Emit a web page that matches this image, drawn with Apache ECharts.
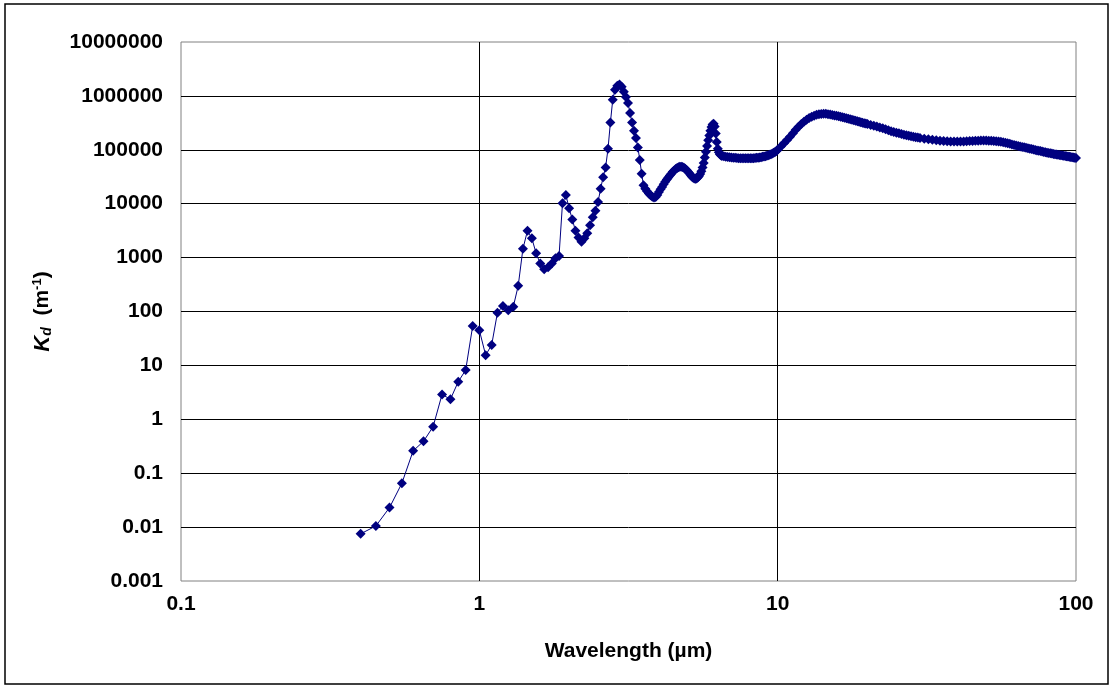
<!DOCTYPE html>
<html>
<head>
<meta charset="utf-8">
<script src="https://cdn.jsdelivr.net/npm/echarts@6/dist/echarts.min.js"></script>
<style>
html,body{margin:0;padding:0;background:#fff;}
#c{width:1115px;height:686px;}
</style>
</head>
<body>
<div id="c"></div>
<script>
// Wavelength (µm)
const wavelength = [
0.40,0.45,0.50,0.55,0.60,0.65,0.70,0.75,0.80,0.85,0.90,0.95,
1.00,1.05,1.10,1.15,1.20,1.25,1.30,1.35,1.40,1.45,1.50,1.55,1.60,1.65,1.70,1.75,1.80,1.85,1.90,1.95,
2.00,2.05,2.10,2.15,2.20,2.25,2.30,2.35,2.40,2.45,2.50,2.55,2.60,2.65,2.70,2.75,2.80,2.85,2.90,2.95,
3.00,3.05,3.10,3.15,3.20,3.25,3.30,3.35,3.40,3.45,3.50,3.55,3.60,3.65,3.70,3.75,3.80,3.85,3.90,3.95,
4.00,4.05,4.10,4.15,4.20,4.25,4.30,4.35,4.40,4.45,4.50,4.55,4.60,4.65,4.70,4.75,4.80,4.85,4.90,4.95,
5.00,5.05,5.10,5.15,5.20,5.25,5.30,5.35,5.40,5.45,5.50,5.55,5.60,5.65,5.70,5.75,5.80,5.85,5.90,5.95,
6.00,6.05,6.10,6.15,6.20,6.25,6.30,6.35,6.40,6.45,6.50,
6.6,6.7,6.8,6.9,7.0,7.1,7.2,7.3,7.4,7.5,7.6,7.7,7.8,7.9,8.0,8.1,8.2,8.3,8.4,8.5,8.6,8.7,8.8,8.9,
9.0,9.1,9.2,9.3,9.4,9.5,9.6,9.7,9.8,9.9,
10.00,10.25,10.50,10.75,11.00,11.25,11.50,11.75,12.00,12.25,12.50,12.75,13.00,13.25,13.50,13.75,
14.00,14.25,14.50,14.75,15.00,15.25,15.50,15.75,16.00,16.25,16.50,16.75,17.00,17.25,17.50,17.75,
18.00,18.25,18.50,18.75,19.00,19.25,19.50,19.75,
20,20.5,21,21.5,22,22.5,23,23.5,24,24.5,25,25.5,26,26.5,27,27.5,28,28.5,29,29.5,
30,31,32,33,34,35,36,37,38,39,40,41,42,43,44,45,46,47,48,49,
50,51,52,53,54,55,56,57,58,59,60,61,62,63,64,65,66,67,68,69,70,71,72,73,74,75,76,77,78,79,
80,81,82,83,84,85,86,87,88,89,90,91,92,93,94,95,96,97,98,99,100
];
// Kd (m^-1)
const kd = [
0.0075,0.0105,0.023,0.065,0.26,0.39,0.73,2.9,2.35,5.0,8.2,54,
45,15.5,24,95,127,105,123,300,1460,3150,2280,1200,780,610,660,780,970,1070,10200,14500,
8200,5100,3150,2350,1970,2280,2820,4000,5600,7400,10800,19000,31000,47000,105000,320000,850000,1300000,1550000,1620000,
1480000,1200000,950000,740000,480000,320000,225000,165000,110000,65000,36000,22000,19000,17000,15500,14300,13400,13000,13300,14500,
16500,18500,20500,23000,25500,28000,30500,33500,36000,39000,41500,44000,46000,47500,48500,48500,48000,46500,44500,42000,
39500,37000,34500,32000,30500,29500,29000,29500,30500,32500,35500,40000,47000,57000,72000,92000,118000,150000,185000,225000,
265000,295000,305000,270000,200000,140000,105000,90000,83000,79000,77000,
76000,74500,73500,72500,72000,71500,71000,70500,70000,70000,69500,69500,69500,69500,69500,69500,70000,70000,70500,71000,71500,72000,73000,74000,
75000,76000,77500,79000,81000,83000,85500,88000,91000,95000,
100000,115000,132000,152000,175000,203000,235000,267000,300000,331000,360000,387000,410000,430000,445000,455000,
462000,465000,464000,458000,450000,443000,435000,428000,420000,411000,402000,394000,385000,377000,368000,360000,
352000,345000,338000,331000,325000,318000,312000,306000,
300000,290000,280000,270000,260000,250000,240000,231000,222000,215000,208000,202000,196000,191000,186000,182000,178000,174500,171000,168500,
166000,161000,157000,153000,150000,147000,145000,143500,142500,142000,
142000,142500,143000,144000,145000,146000,147000,147500,148000,148000,
148000,147500,147000,146000,144500,143000,141000,138000,135000,132000,129000,126000,123000,120500,118000,115500,113000,111000,109000,107000,
105000,103000,101000,99000,97500,96000,94500,93000,91500,90000,
88500,87000,86000,85000,84000,83000,82000,81000,80000,79000,78000,77200,76400,75600,74800,74000,73300,72600,72000,71400,70800
];
const xTicks = ['0.1','1','10','100'];
const yTicks = ['0.001','0.01','0.1','1','10','100','1000','10000','100000','1000000','10000000'];

const seriesData = wavelength.map((w, i) => [w, kd[i]]);
const fmt = v => parseFloat(Number(v).toPrecision(6)).toString();
const labelFont = {fontFamily: 'Liberation Sans, Arial, sans-serif', fontWeight: 'bold', fontSize: 21, color: '#000'};

const chart = echarts.init(document.getElementById('c'), null, {renderer: 'canvas'});
chart.setOption({
  animation: false,
  backgroundColor: '#fff',
  grid: {left: 181, top: 42, right: 39, bottom: 105, show: true, borderColor: '#808080', borderWidth: 1, backgroundColor: 'transparent'},
  xAxis: {
    type: 'log', logBase: 10, min: 0.1, max: 100, interval: 1,
    axisLine: {show: false},
    axisTick: {show: false},
    axisLabel: Object.assign({margin: 13, formatter: v => { const s = fmt(v); return xTicks.includes(s) ? s : ''; }}, labelFont),
    splitLine: {show: true, showMinLine: false, showMaxLine: false, lineStyle: {color: '#000', width: 1}},
    minorTick: {show: false}, minorSplitLine: {show: false},
    name: 'Wavelength (µm)', nameLocation: 'middle', nameGap: 60,
    nameTextStyle: Object.assign({}, labelFont)
  },
  yAxis: {
    type: 'log', logBase: 10, min: 0.001, max: 10000000, interval: 1,
    axisLine: {show: false},
    axisTick: {show: false},
    axisLabel: Object.assign({margin: 18, formatter: v => { const s = fmt(v); return yTicks.includes(s) ? s : ''; }}, labelFont),
    splitLine: {show: true, showMinLine: false, showMaxLine: false, lineStyle: {color: '#000', width: 1}},
    name: '{k|K}{d|d}{n|  (m}{s|-1}{n|)}', nameLocation: 'middle', nameGap: 116, nameRotate: 90,
    nameTextStyle: {
      rich: {
        k: {fontFamily: 'Liberation Sans, Arial', fontWeight: 'bold', fontStyle: 'italic', fontSize: 22, lineHeight: 32, verticalAlign: 'middle', color: '#000'},
        d: {fontFamily: 'Liberation Sans, Arial', fontWeight: 'bold', fontStyle: 'italic', fontSize: 14, lineHeight: 32, verticalAlign: 'bottom', padding: [0,0,5,0], color: '#000'},
        n: {fontFamily: 'Liberation Sans, Arial', fontWeight: 'bold', fontSize: 21, lineHeight: 32, verticalAlign: 'middle', color: '#000'},
        s: {fontFamily: 'Liberation Sans, Arial', fontWeight: 'bold', fontSize: 13, lineHeight: 32, verticalAlign: 'top', padding: [4,0,0,0], color: '#000'}
      }
    }
  },
  series: [{
    type: 'line', data: seriesData,
    symbol: 'diamond', symbolSize: 10, showAllSymbol: true,
    itemStyle: {color: '#000080'},
    lineStyle: {color: '#000080', width: 1},
    emphasis: {disabled: true}
  }],
  graphic: [{
    type: 'rect', shape: {x: 5, y: 4, width: 1103, height: 680},
    style: {fill: 'none', stroke: '#000', lineWidth: 1.5}, silent: true, z: -1
  }]
});
</script>
</body>
</html>
